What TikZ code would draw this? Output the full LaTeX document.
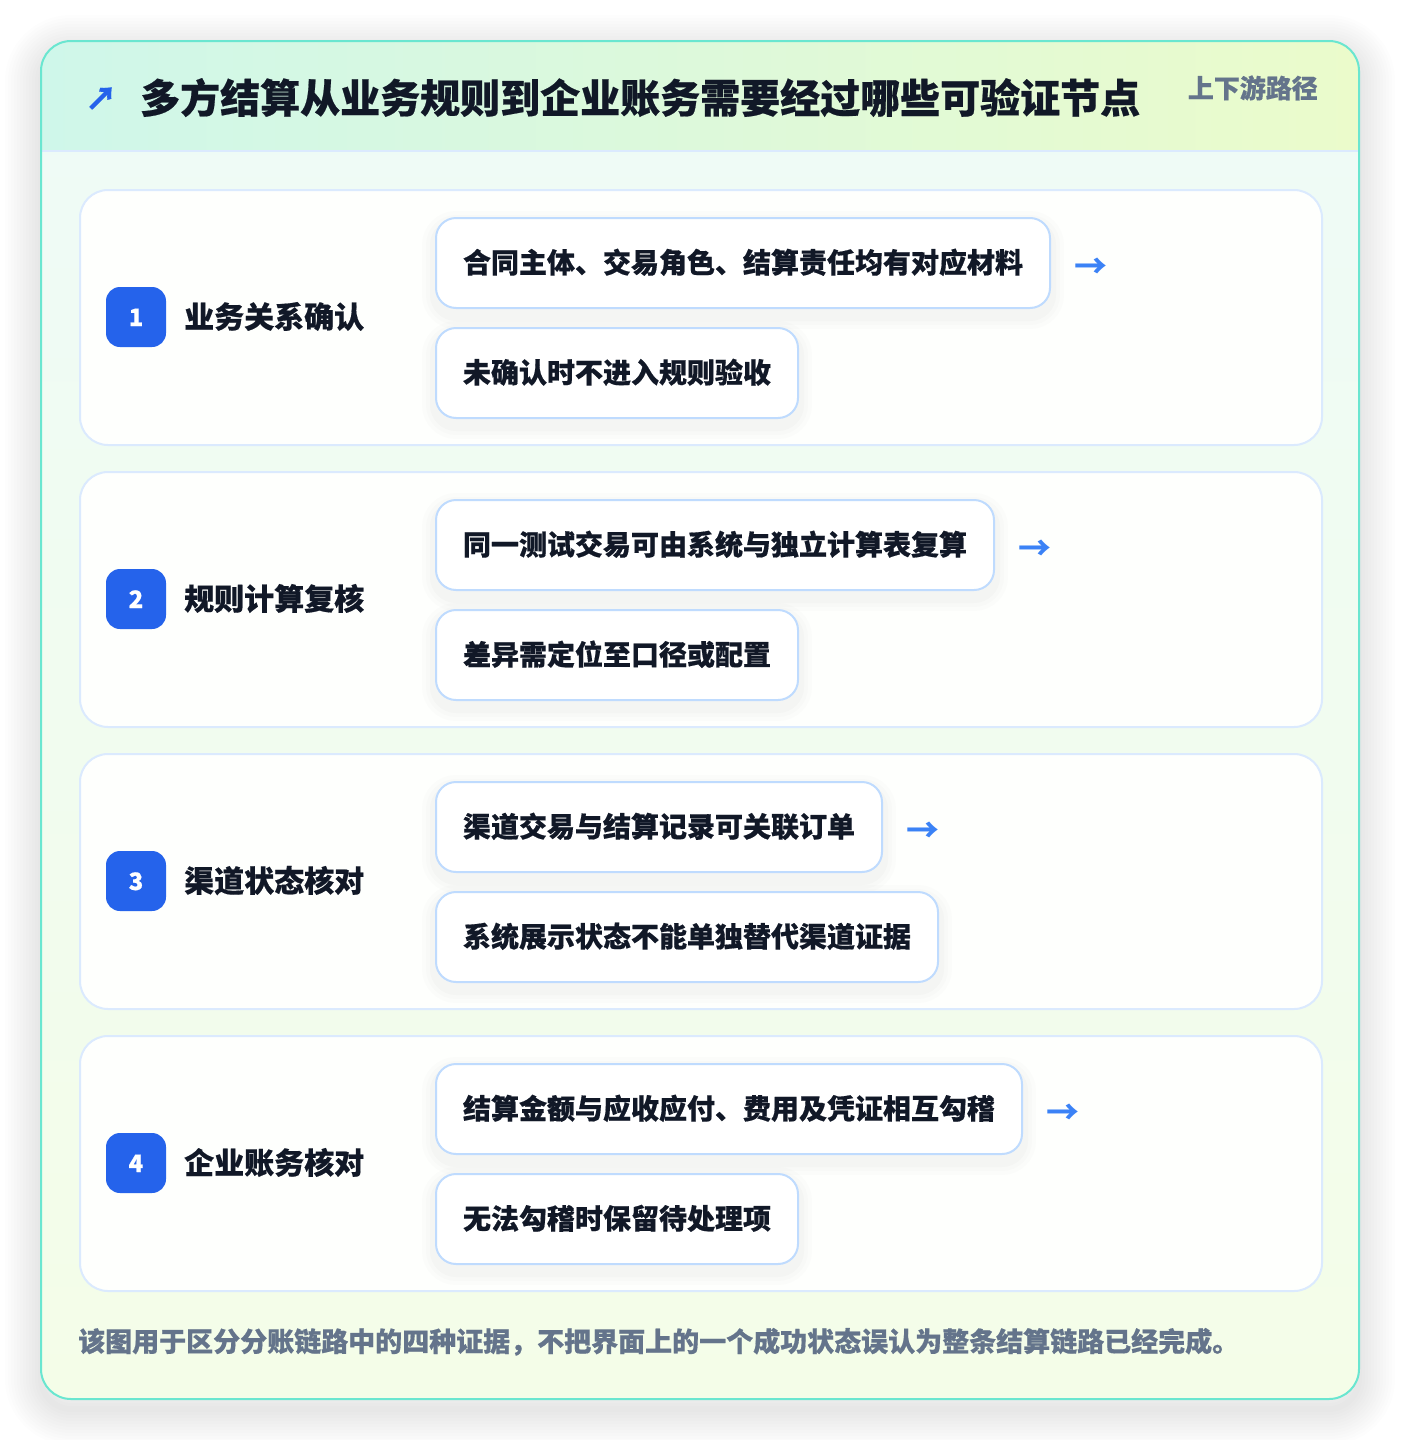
\documentclass[tikz,border=0pt]{standalone}
\usepackage{fontspec}
\setmainfont{Noto Sans CJK SC}[BoldFeatures={FakeBold=0.5}]
\newfontfamily\plainfont{Noto Sans CJK SC}
\usetikzlibrary{positioning}
\definecolor{frameteal}{HTML}{6AE6D0}
\definecolor{cardline}{HTML}{DBEAFE}
\definecolor{chipline}{HTML}{BFDBFE}
\definecolor{ink}{HTML}{111827}
\definecolor{slate}{HTML}{64748B}
\definecolor{badgeblue}{HTML}{2563EB}
\definecolor{arrowblue}{HTML}{3B82F6}
\definecolor{headl}{HTML}{CFF7EA}
\definecolor{headr}{HTML}{EBFBCB}
\definecolor{bodytop}{HTML}{EEFBF7}
\definecolor{bodybot}{HTML}{F4FDE8}
\definecolor{cardfill}{HTML}{FEFFFD}
\begin{document}
\begin{tikzpicture}[x=1pt,y=-1pt,
  stepcard/.style={draw=cardline, line width=2pt, fill=cardfill, rounded corners=28pt,
    minimum width=1242pt, minimum height=255pt, inner sep=0pt, anchor=north west},
  softshadow/.style={
    preaction={draw=black, draw opacity=0.010, line width=28pt, transform canvas={yshift=-7pt}},
    preaction={draw=black, draw opacity=0.012, line width=20pt, transform canvas={yshift=-7pt}},
    preaction={draw=black, draw opacity=0.014, line width=12pt, transform canvas={yshift=-7pt}}},
  chip/.style={softshadow, draw=chipline, line width=2pt, fill=white, rounded corners=20pt,
    minimum height=90pt, inner xsep=27pt, inner ysep=0pt, text height=24pt, text depth=4pt,
    font=\fontsize{28pt}{34pt}\selectfont\bfseries, text=ink, anchor=north west},
  badge/.style={fill=badgeblue, rounded corners=14pt, minimum size=60pt, inner sep=0pt,
    text=white, font=\fontsize{24pt}{28pt}\selectfont\bfseries, text height=18pt, text depth=0pt},
  steplabel/.style={anchor=west, inner sep=0pt, text height=26pt, text depth=4pt,
    font=\fontsize{30pt}{36pt}\selectfont\bfseries, text=ink},
  arrowsym/.style={inner sep=0pt, text=arrowblue, font=\fontsize{33pt}{38pt}\selectfont\plainfont\bfseries,
    anchor=west, text height=14pt, text depth=0pt}
]
\useasboundingbox (0,0) rectangle (1400,1440);
\fill[white] (0,0) rectangle (1400,1440);
% main frame shadow
\foreach \i in {1,...,12}
  \draw[black, opacity=0.0065, line width=6*\i pt, rounded corners=30pt] (41,51) rectangle (1359,1409);
% main frame
\shade[top color=bodytop, bottom color=bodybot, rounded corners=30pt] (41,41) rectangle (1359,1399);
\begin{scope}
  \clip[rounded corners=30pt] (41,41) rectangle (1359,1399);
  \shade[left color=headl, right color=headr] (41,41) rectangle (1359,151);
\end{scope}
\draw[cardline, line width=2pt] (42,151) -- (1358,151);
\draw[frameteal, line width=2pt, rounded corners=30pt] (41,41) rectangle (1359,1399);
% header
\node[anchor=west, inner sep=0pt, text=badgeblue, font=\fontsize{32pt}{38pt}\selectfont\bfseries,
  text height=22pt, text depth=2pt] (ticon) at (85,100) {↗};
\node[anchor=west, inner sep=0pt, text=ink, font=\fontsize{40pt}{48pt}\selectfont\bfseries,
  text height=35pt, text depth=5pt] (title) at (140,98) {多方结算从业务规则到企业账务需要经过哪些可验证节点};
\node[anchor=east, inner sep=0pt, text=slate, font=\fontsize{26pt}{32pt}\selectfont\bfseries,
  text height=22pt, text depth=4pt] (sub) at (1318,89) {上下游路径};
% step cards
\node[stepcard] (card1) at (79,189) {};
\node[stepcard] (card2) at (79,471) {};
\node[stepcard] (card3) at (79,753) {};
\node[stepcard] (card4) at (79,1035) {};
% step 1
\node[badge] (b1) at (136,317) {1};
\node[steplabel] (l1) at (184,317) {业务关系确认};
\node[chip] (c11) at (435,217) {合同主体、交易角色、结算责任均有对应材料};
\node[chip] (c12) at (435,327) {未确认时不进入规则验收};
\node[arrowsym, right=23pt of c11.east, yshift=-8pt] (a1) {→};
% step 2
\node[badge] (b2) at (136,599) {2};
\node[steplabel] (l2) at (184,599) {规则计算复核};
\node[chip] (c21) at (435,499) {同一测试交易可由系统与独立计算表复算};
\node[chip] (c22) at (435,609) {差异需定位至口径或配置};
\node[arrowsym, right=23pt of c21.east, yshift=-8pt] (a2) {→};
% step 3
\node[badge] (b3) at (136,881) {3};
\node[steplabel] (l3) at (184,881) {渠道状态核对};
\node[chip] (c31) at (435,781) {渠道交易与结算记录可关联订单};
\node[chip] (c32) at (435,891) {系统展示状态不能单独替代渠道证据};
\node[arrowsym, right=23pt of c31.east, yshift=-8pt] (a3) {→};
% step 4
\node[badge] (b4) at (136,1163) {4};
\node[steplabel] (l4) at (184,1163) {企业账务核对};
\node[chip] (c41) at (435,1063) {结算金额与应收应付、费用及凭证相互勾稽};
\node[chip] (c42) at (435,1173) {无法勾稽时保留待处理项};
\node[arrowsym, right=23pt of c41.east, yshift=-8pt] (a4) {→};
% footer
\node[anchor=west, inner sep=0pt, text=slate, font=\fontsize{27pt}{32pt}\selectfont\bfseries,
  text height=23pt, text depth=4pt] (foot) at (78,1342) {该图用于区分分账链路中的四种证据，不把界面上的一个成功状态误认为整条结算链路已经完成。};
\end{tikzpicture}
\end{document}
